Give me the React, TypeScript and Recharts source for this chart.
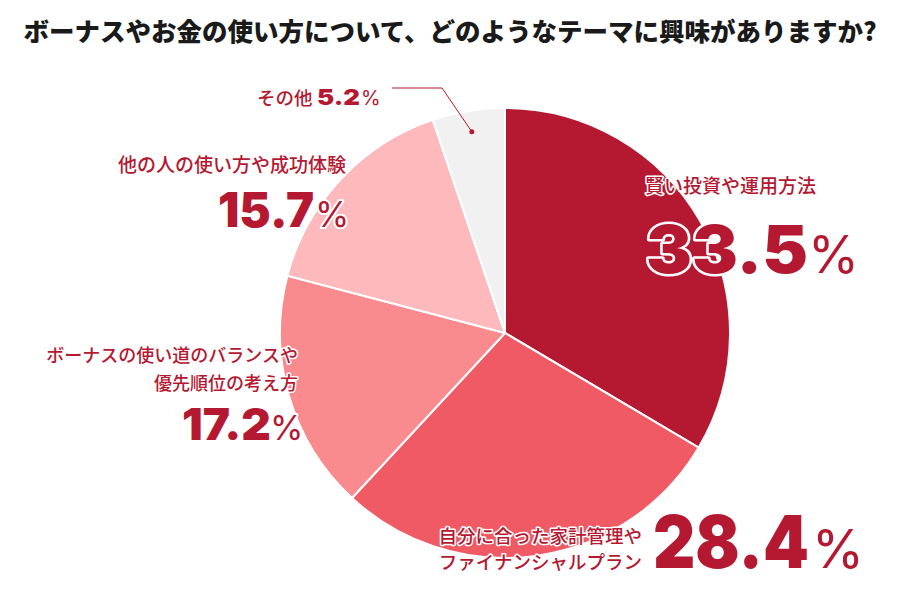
import { Cell, Pie, PieChart } from "recharts"

const categories = [
  "賢い投資や運用方法",
  "自分に合った家計管理や\nファイナンシャルプラン",
  "ボーナスの使い道のバランスや\n優先順位の考え方",
  "他の人の使い方や成功体験",
  "その他",
]
const values = [33.5, 28.4, 17.2, 15.7, 5.2]
const colors = ["#B51932", "#F05A65", "#F98A8E", "#FDB9BB", "#F1F1F1"]

const TITLE = "ボーナスやお金の使い方について、どのようなテーマに興味がありますか?"
const RED = "#B51932"
const RAD = Math.PI / 180

const data = categories.map((name, i) => ({ name, value: values[i] }))

// label placement relative to pie centre
const labelLayout = [
  { nx: 140, ny: [-140], anchor: "start", nSize: 19, px: 141, py: -60, pSize: 66, pWidth: 162, gap: 0, pctSize: 52 },
  { nx: 137, ny: [210, 236], anchor: "end", nSize: 18.5, px: 148, py: 235, pSize: 73, pWidth: 156, gap: 3, pctSize: 53 },
  { nx: -207, ny: [29, 57], anchor: "end", nSize: 18, px: -323, py: 107, pSize: 44, pWidth: 89, gap: -1, pctSize: 34 },
  { nx: -387, ny: [-161], anchor: "start", nSize: 19, px: -287, py: -106, pSize: 48, pWidth: 96, gap: 1, pctSize: 35 },
  { nx: -248, ny: [-228], anchor: "start", nSize: 18.5, px: -188, py: -228, pSize: 22, pWidth: 43, gap: 1, pctSize: 20 },
]

const halo = { stroke: "#fff", strokeWidth: 4, paintOrder: "stroke" as const, strokeLinejoin: "round" as const }

const renderLabel = (props: any) => {
  const { cx, cy, index, midAngle, outerRadius } = props
  const l = labelLayout[index]
  const lines = categories[index].split("\n")
  const num = values[index].toFixed(1)
  let leader = null
  if (index === 4) {
    const r = outerRadius - 21
    const dx = cx + r * Math.cos(-midAngle * RAD)
    const dy = cy + r * Math.sin(-midAngle * RAD)
    leader = (
      <g>
        <polyline
          points={`${cx - 113},${cy - 245} ${cx - 63},${cy - 245} ${dx},${dy}`}
          fill="none"
          stroke={RED}
          strokeWidth={1}
        />
        <circle cx={dx} cy={dy} r={2.5} fill={RED} />
      </g>
    )
  }
  return (
    <g key={`lbl-${index}`}>
      {lines.map((line, j) => (
        <text
          key={j}
          x={cx + l.nx}
          y={cy + l.ny[j]}
          textAnchor={l.anchor as any}
          fontSize={l.nSize}
          fontWeight={500}
          fontFamily="'Noto Sans CJK JP', sans-serif"
          fill={RED}
          {...halo}
          strokeWidth={3}
        >
          {line}
        </text>
      ))}
      <text
        x={cx + l.px}
        y={cy + l.py}
        fontSize={l.pSize}
        fontWeight={900}
        fontFamily="Inter, Roboto, sans-serif"
        fill={RED}
        textLength={l.pWidth}
        lengthAdjust="spacingAndGlyphs"
        {...halo}
        strokeWidth={index === 0 ? 5 : 4}
      >
        {num}
      </text>
      <text
        x={cx + l.px + l.pWidth + l.gap}
        y={cy + l.py}
        fontSize={l.pctSize}
        fontWeight={400}
        fontFamily="Inter, Roboto, sans-serif"
        fill={RED}
        {...halo}
      >
        %
      </text>
      {leader}
    </g>
  )
}

export default function App() {
  return (
    <div style={{ position: "relative", width: 900, height: 600, margin: -8, background: "#fff" }}>
      <div
        style={{
          position: "absolute",
          left: 0,
          top: 13,
          width: 900,
          textAlign: "center",
          fontFamily: "'Noto Sans CJK JP', sans-serif",
          fontWeight: 900,
          fontSize: 25.5,
          lineHeight: "34px",
          color: "#1a1a1a",
          whiteSpace: "nowrap",
        }}
      >
        {TITLE}
      </div>
      <PieChart
        width={900}
        height={600}
        margin={{ top: 0, right: 0, bottom: 0, left: 0 }}
        style={{ position: "absolute", left: 0, top: 0 }}
      >
        <Pie
          data={data}
          dataKey="value"
          nameKey="name"
          cx={505}
          cy={333}
          outerRadius={225}
          startAngle={90}
          endAngle={-270}
          stroke="#fff"
          strokeWidth={2}
          label={renderLabel}
          labelLine={false}
          isAnimationActive={false}
        >
          {data.map((d, i) => (
            <Cell key={d.name} fill={colors[i]} />
          ))}
        </Pie>
      </PieChart>
    </div>
  )
}
